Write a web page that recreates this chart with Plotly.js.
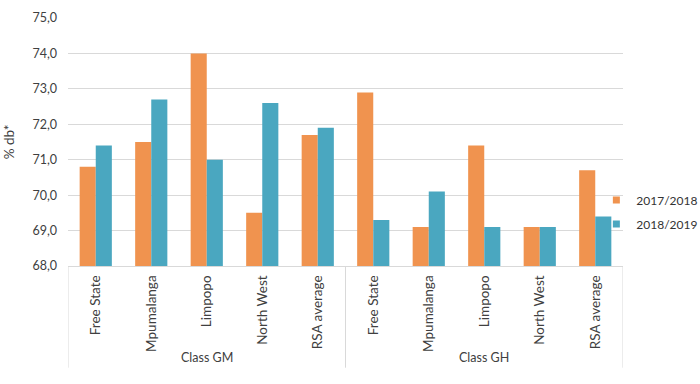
<!DOCTYPE html>
<html>
<head>
<meta charset="utf-8">
<script src="https://cdn.plot.ly/plotly-3.0.1.min.js"></script>
<style>html,body{margin:0;padding:0;background:#fff}#chart{width:700px;height:384px}</style>
</head>
<body>
<div id="chart"></div>
<script>
const regions = ["Free State", "Mpumalanga", "Limpopo", "North West", "RSA average"];
const classes = ["Class GM", "Class GH"];
const seriesNames = ["2017/2018", "2018/2019"];
const gm2017 = [70.8, 71.5, 74.0, 69.5, 71.7];
const gm2018 = [71.4, 72.7, 71.0, 72.6, 71.9];
const gh2017 = [72.9, 69.1, 71.4, 69.1, 70.7];
const gh2018 = [69.3, 70.1, 69.1, 69.1, 69.4];
const colors = ["#F0934F", "#4AA7C0"];

const nR = regions.length;
const xIdx = [];
const tickText = [];
classes.forEach((c, ci) => regions.forEach((r, ri) => { xIdx.push(ci * nR + ri); tickText.push(r); }));
const s2017 = gm2017.concat(gh2017);
const s2018 = gm2018.concat(gh2018);

const font = "Lato, 'Open Sans', sans-serif";
const data = [
  {type: "bar", name: seriesNames[0], x: xIdx, y: s2017, marker: {color: colors[0]}, showlegend: false},
  {type: "bar", name: seriesNames[1], x: xIdx, y: s2018, marker: {color: colors[1]}, showlegend: false},
  {type: "scatter", mode: "markers", name: seriesNames[0], legendgroup: "a", x: [null], y: [null], marker: {symbol: "square", size: 7, color: colors[0]}},
  {type: "scatter", mode: "markers", name: seriesNames[1], legendgroup: "b", x: [null], y: [null], marker: {symbol: "square", size: 7, color: colors[1]}}
];

const shapes = [-0.5, nR - 0.5, 2 * nR - 0.5].map(v => ({
  type: "line", xref: "x", yref: "paper", x0: v, x1: v, y0: 0, y1: -0.41,
  line: {color: "#D9D9D9", width: 1}
}));
const annotations = classes.map((c, ci) => ({
  text: c, xref: "x", yref: "paper", x: ci * nR + (nR - 1) / 2, y: -0.37,
  showarrow: false, yanchor: "middle", font: {family: font, size: 12.5, color: "#404040"}
}));

const layout = {
  width: 700, height: 384,
  margin: {l: 68, r: 77, t: 18, b: 118, autoexpand: false},
  paper_bgcolor: "#fff", plot_bgcolor: "#fff",
  font: {family: font, color: "#404040", size: 12},
  separators: ",.",
  barmode: "group", bargap: 0.42, bargroupgap: 0,
  showlegend: true,
  legend: {x: 0.952, xanchor: "left", y: 0.325, yanchor: "top", bgcolor: "rgba(0,0,0,0)",
           font: {size: 12, color: "#333"}, tracegroupgap: 5, itemwidth: 30},
  xaxis: {
    range: [-0.5, 2 * nR - 0.5], tickmode: "array", tickvals: xIdx, ticktext: tickText,
    tickangle: -90, ticks: "", showgrid: false, zeroline: false,
    showline: true, linecolor: "#D9D9D9", linewidth: 1, ticklabelstandoff: 3,
    tickfont: {size: 13.5, color: "#404040"}, automargin: false
  },
  yaxis: {
    range: [68, 75], dtick: 1, tickformat: ".1f", showgrid: true, gridcolor: "#D9D9D9",
    zeroline: false, showline: false, ticks: "", ticklabelstandoff: 10,
    tickfont: {size: 12.5, color: "#404040"},
    title: {text: "% db*", font: {size: 13.5, color: "#404040"}, standoff: 14}, automargin: false
  },
  shapes: shapes, annotations: annotations
};
Plotly.newPlot("chart", data, layout, {displayModeBar: false, staticPlot: true});
</script>
</body>
</html>
